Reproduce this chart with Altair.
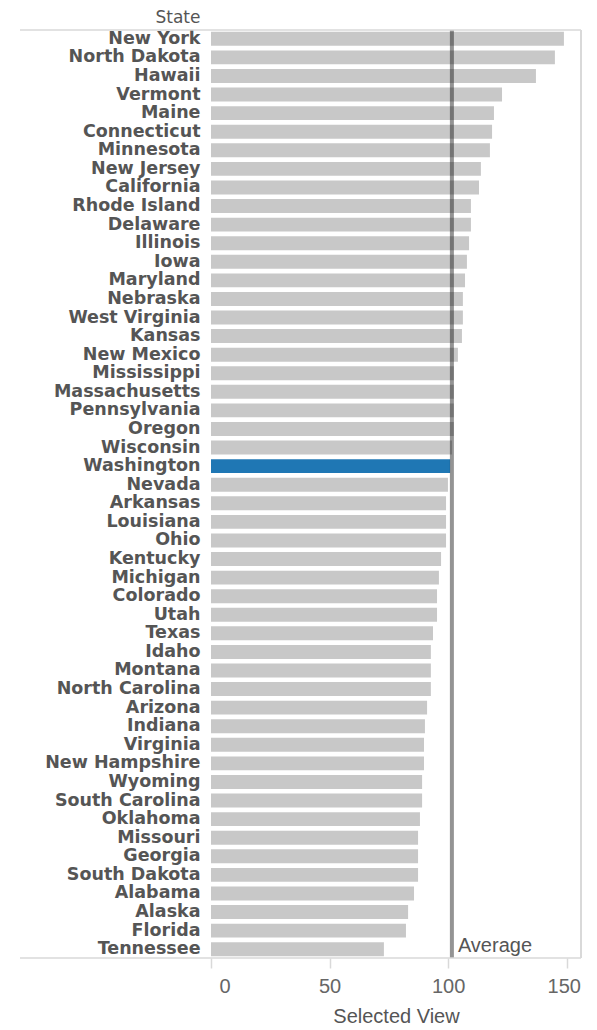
import altair as alt
import pandas as pd

states = [
    "New York", "North Dakota", "Hawaii", "Vermont", "Maine", "Connecticut",
    "Minnesota", "New Jersey", "California", "Rhode Island", "Delaware",
    "Illinois", "Iowa", "Maryland", "Nebraska", "West Virginia", "Kansas",
    "New Mexico", "Mississippi", "Massachusetts", "Pennsylvania", "Oregon",
    "Wisconsin", "Washington", "Nevada", "Arkansas", "Louisiana", "Ohio",
    "Kentucky", "Michigan", "Colorado", "Utah", "Texas", "Idaho", "Montana",
    "North Carolina", "Arizona", "Indiana", "Virginia", "New Hampshire",
    "Wyoming", "South Carolina", "Oklahoma", "Missouri", "Georgia",
    "South Dakota", "Alabama", "Alaska", "Florida", "Tennessee",
]
values = [
    148.8, 145.0, 137.0, 122.7, 119.3, 118.5,
    117.6, 113.8, 113.0, 109.6, 109.6,
    108.8, 107.9, 107.1, 106.2, 106.2, 105.8,
    104.1, 102.4, 102.4, 102.4, 102.4,
    101.6, 100.8, 99.9, 99.1, 99.1, 99.1,
    97.0, 96.1, 95.3, 95.3, 93.6, 92.7, 92.7,
    92.7, 91.1, 90.2, 89.8, 89.8,
    89.0, 89.0, 88.1, 87.3, 87.3,
    87.3, 85.6, 83.1, 82.2, 72.9,
]
highlight = "Washington"
x_ticks = [0, 50, 100, 150]

df = pd.DataFrame({"state": states, "value": values})
one = pd.DataFrame({"k": [0]})

W, H = 370, 928
LINE = "#d9d9d9"

base = alt.Chart(df)

bars = base.mark_bar().encode(
    y=alt.Y(
        "state:N",
        sort=states,
        scale=alt.Scale(paddingInner=0.25, paddingOuter=0.1),
        axis=alt.Axis(
            title="State", titleAngle=0, titleAlign="right",
            titleBaseline="alphabetic", titleX=-11, titleY=-8,
            titleFont="DejaVu Sans", titleFontSize=17,
            titleFontWeight="normal", titleColor="#555",
            labelFont="DejaVu Sans", labelFontWeight="bold",
            labelFontSize=17.5, labelColor="#555",
            ticks=False, tickSize=0, domain=False, labelPadding=11,
        ),
    ),
    x=alt.X(
        "value:Q",
        scale=alt.Scale(domain=[0, 156], nice=False),
        axis=alt.Axis(
            values=x_ticks, title="Selected View", grid=False, domain=False,
            tickColor=LINE, tickWidth=1.5, tickSize=10,
            labelFont="Liberation Sans", labelFontSize=20, labelColor="#666",
            labelPadding=8,
            labelOffset=alt.ExprRef("datum.value == 0 ? 8 : (datum.value == 150 ? -3 : 0)"),
            titleFont="Liberation Sans", titleFontSize=20,
            titleFontWeight="normal", titleColor="#555",
            titleBaseline="alphabetic", titleY=64,
        ),
    ),
    color=alt.condition(
        alt.datum.state == highlight, alt.value("#1f77b4"), alt.value("#c8c8c8")
    ),
)

avg_rule = base.mark_rule(color="#000000", opacity=0.42, strokeWidth=4).encode(
    x="mean(value):Q"
)

avg_text = base.mark_text(
    text="Average", align="left", baseline="alphabetic", dx=6, dy=3,
    font="Liberation Sans", fontSize=20, color="#555",
).encode(
    x="mean(value):Q",
    y=alt.Y(datum="Tennessee", type="nominal"),
)

top_rule = alt.Chart(one).mark_rule(color=LINE, strokeWidth=1.5).encode(
    x=alt.value(-191), x2=alt.value(W), y=alt.value(0)
)
bottom_rule = alt.Chart(one).mark_rule(color=LINE, strokeWidth=1.5).encode(
    x=alt.value(-191), x2=alt.value(W), y=alt.value(H)
)
right_rule = alt.Chart(one).mark_rule(color=LINE, strokeWidth=2).encode(
    x=alt.value(W), y=alt.value(0), y2=alt.value(H)
)

chart = alt.layer(
    bars, avg_rule, avg_text, top_rule, bottom_rule, right_rule
).properties(
    width=W, height=H,
    padding={"left": 203, "top": 22, "right": 6, "bottom": 72},
    autosize="none",
).configure_view(strokeWidth=0)

chart.save("out.html", embed_options={"renderer": "svg", "actions": False})
